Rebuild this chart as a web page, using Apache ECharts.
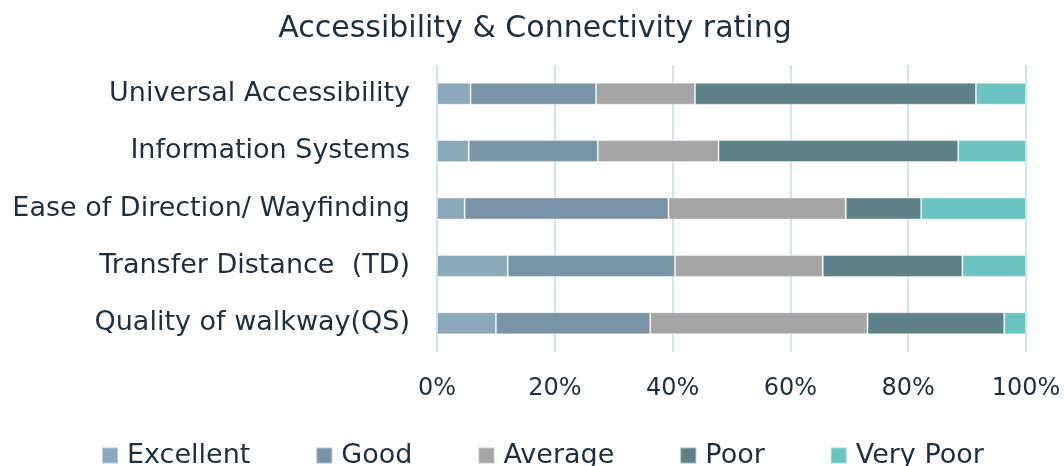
<!DOCTYPE html>
<html>
<head>
<meta charset="utf-8">
<title>Accessibility & Connectivity rating</title>
<script src="https://cdn.jsdelivr.net/npm/echarts@6/dist/echarts.min.js"></script>
<style>
  html, body { margin: 0; padding: 0; background: #ffffff; }
  #chart { width: 1064px; height: 466px; }
</style>
</head>
<body>
<div id="chart"></div>
<script>
// Criteria, listed from top to bottom
const categories = [
  'Universal Accessibility',
  'Information Systems',
  'Ease of Direction/ Wayfinding',
  'Transfer Distance  (TD)',
  'Quality of walkway(QS)'
];

// Share of respondents per rating (%)
const excellent = [5.7, 5.4, 4.7, 12.0, 10.0];
const good      = [21.3, 21.9, 34.6, 28.4, 26.2];
const average   = [16.8, 20.5, 30.1, 25.1, 36.9];
const poor      = [47.7, 40.7, 12.8, 23.7, 23.2];
const veryPoor  = [8.5, 11.5, 17.8, 10.8, 3.7];

const tickStep = 20;

const textColor = '#1c3041';
const fontFamily = '"DejaVu Sans", sans-serif';

const seriesDefs = [
  { name: 'Excellent', data: excellent, color: '#8aa8b7' },
  { name: 'Good',      data: good,      color: '#7894a6' },
  { name: 'Average',   data: average,   color: '#a5a5a5' },
  { name: 'Poor',      data: poor,      color: '#5e8188' },
  { name: 'Very Poor', data: veryPoor,  color: '#6cc4c2' }
];

const chart = echarts.init(document.getElementById('chart'));

chart.setOption({
  animation: false,
  backgroundColor: '#ffffff',
  textStyle: { fontFamily: fontFamily, color: textColor },
  title: {
    text: 'Accessibility & Connectivity rating',
    left: 530,
    textAlign: 'center',
    top: 9,
    textStyle: { fontFamily: fontFamily, fontSize: 30, fontWeight: 'normal', color: textColor }
  },
  legend: {
    top: 437,
    left: 96,
    icon: 'rect',
    itemWidth: 16,
    itemHeight: 16,
    itemGap: 65,
    textStyle: { fontFamily: fontFamily, fontSize: 27, color: textColor, padding: [0, 0, 0, 4] },
    data: seriesDefs.map(s => s.name)
  },
  grid: {
    left: 437,
    right: 38,
    top: 65,
    bottom: 114,
    containLabel: false
  },
  xAxis: {
    type: 'value',
    min: 0,
    max: 100,
    interval: tickStep,
    axisLine: { show: false },
    axisTick: { show: false },
    splitLine: { show: true, lineStyle: { color: '#cde6f3', width: 2 } },
    axisLabel: {
      formatter: '{value}%',
      fontFamily: fontFamily,
      fontSize: 24,
      color: textColor,
      margin: 25
    }
  },
  yAxis: {
    type: 'category',
    inverse: true,
    data: categories,
    axisLine: { show: false },
    axisTick: { show: false },
    axisLabel: {
      fontFamily: fontFamily,
      fontSize: 27,
      color: textColor,
      margin: 27
    }
  },
  series: seriesDefs.map(s => ({
    name: s.name,
    type: 'bar',
    stack: 'total',
    barWidth: 22,
    data: s.data,
    itemStyle: {
      color: s.color,
      borderColor: 'rgba(255,255,255,0.4)',
      borderWidth: 1
    },
    emphasis: { disabled: true }
  }))
});
</script>
</body>
</html>
